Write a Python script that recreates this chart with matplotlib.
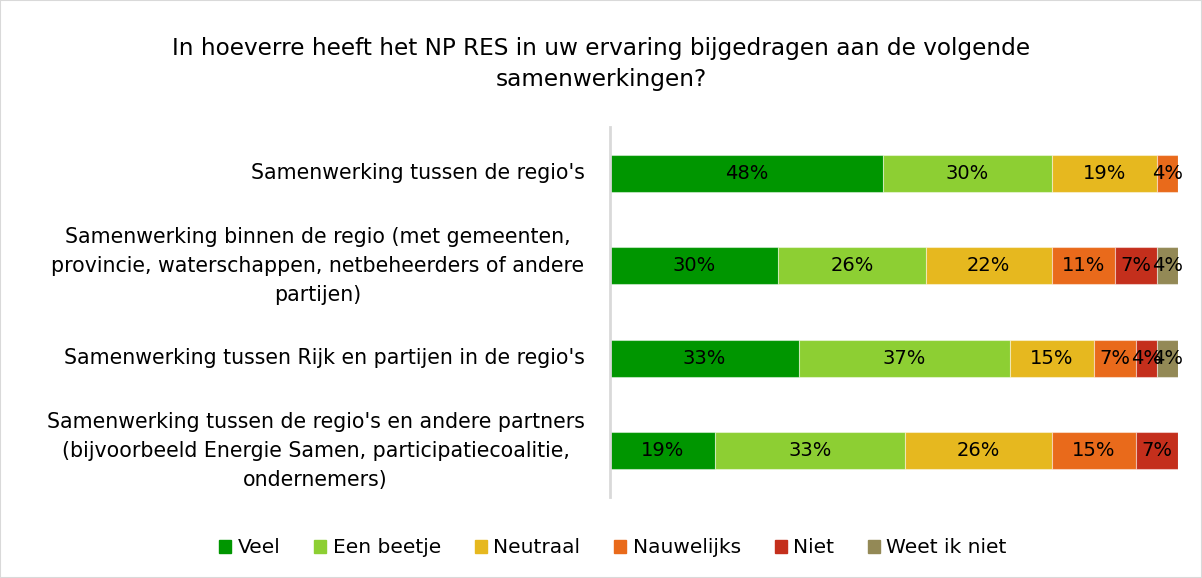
import matplotlib
matplotlib.use("Agg")
import matplotlib.pyplot as plt
from matplotlib.patches import Rectangle
import numpy as np
import math

title = "In hoeverre heeft het NP RES in uw ervaring bijgedragen aan de volgende\nsamenwerkingen?"
categories = [
    "Samenwerking tussen de regio's",
    "Samenwerking binnen de regio (met gemeenten,\nprovincie, waterschappen, netbeheerders of andere\npartijen)",
    "Samenwerking tussen Rijk en partijen in de regio's",
    "Samenwerking tussen de regio's en andere partners\n(bijvoorbeeld Energie Samen, participatiecoalitie,\nondernemers)",
]
series_names = ["Veel", "Een beetje", "Neutraal", "Nauwelijks", "Niet", "Weet ik niet"]
veel        = [48.1, 29.6, 33.3, 18.5]
een_beetje  = [29.6, 25.9, 37.0, 33.3]
neutraal    = [18.5, 22.2, 14.8, 25.9]
nauwelijks  = [3.7, 11.1, 7.4, 14.8]
niet        = [0.0, 7.4, 3.7, 7.4]
weet_ik_niet = [0.0, 3.7, 3.7, 0.0]
series_values = [veel, een_beetje, neutraal, nauwelijks, niet, weet_ik_niet]
colors = ["#009600", "#8DCF33", "#E6B81F", "#E96A1B", "#C42F1C", "#938956"]

plt.rcParams['font.family'] = ['DejaVu Sans']
fig = plt.figure(figsize=(12.02, 5.78), dpi=100)
fig.patches.append(Rectangle((0, 0), 1, 1, transform=fig.transFigure, fill=False,
                             edgecolor="#d9d9d9", linewidth=1.5))
ax = fig.add_axes([0.5075, 0.140, 0.4725, 0.640])

y = np.arange(len(categories))
left = np.zeros(len(categories))
for name, vals, col in zip(series_names, series_values, colors):
    vals = np.array(vals)
    ax.barh(y, vals, left=left, height=0.4, color=col, label=name,
            edgecolor=(1, 1, 1, 0.45), linewidth=0.8)
    for yi, (l, v) in enumerate(zip(left, vals)):
        if v > 0:
            ax.text(l + v / 2, yi, f"{int(math.floor(v + 0.5))}%", ha="center", va="center",
                    fontsize=14, color="black")
    left += vals

ax.set_xlim(0, left.max())
ax.set_ylim(len(categories) - 0.5, -0.5)
ax.set_xticks([])
ax.set_yticks([])
for s in ["top", "right", "bottom"]:
    ax.spines[s].set_visible(False)
ax.spines["left"].set_color("#d9d9d9")
ax.spines["left"].set_linewidth(2)

for yi, cat in enumerate(categories):
    ax.text(-0.045 * left.max(), yi, cat, ha="right", va="center", multialignment="center",
            fontsize=14.8, color="black", linespacing=1.58)

fig.text(0.5, 0.889, title, ha="center", va="center", fontsize=16.7, linespacing=1.46)

handles = [Rectangle((0, 0), 1, 1, color=c) for c in colors]
fig.legend(handles, series_names, loc="center", bbox_to_anchor=(0.51, 0.052), ncol=6,
           frameon=False, fontsize=14.5, handlelength=0.6, handleheight=0.6,
           handletextpad=0.3, columnspacing=1.7)

fig.savefig("out.png", dpi=100)
